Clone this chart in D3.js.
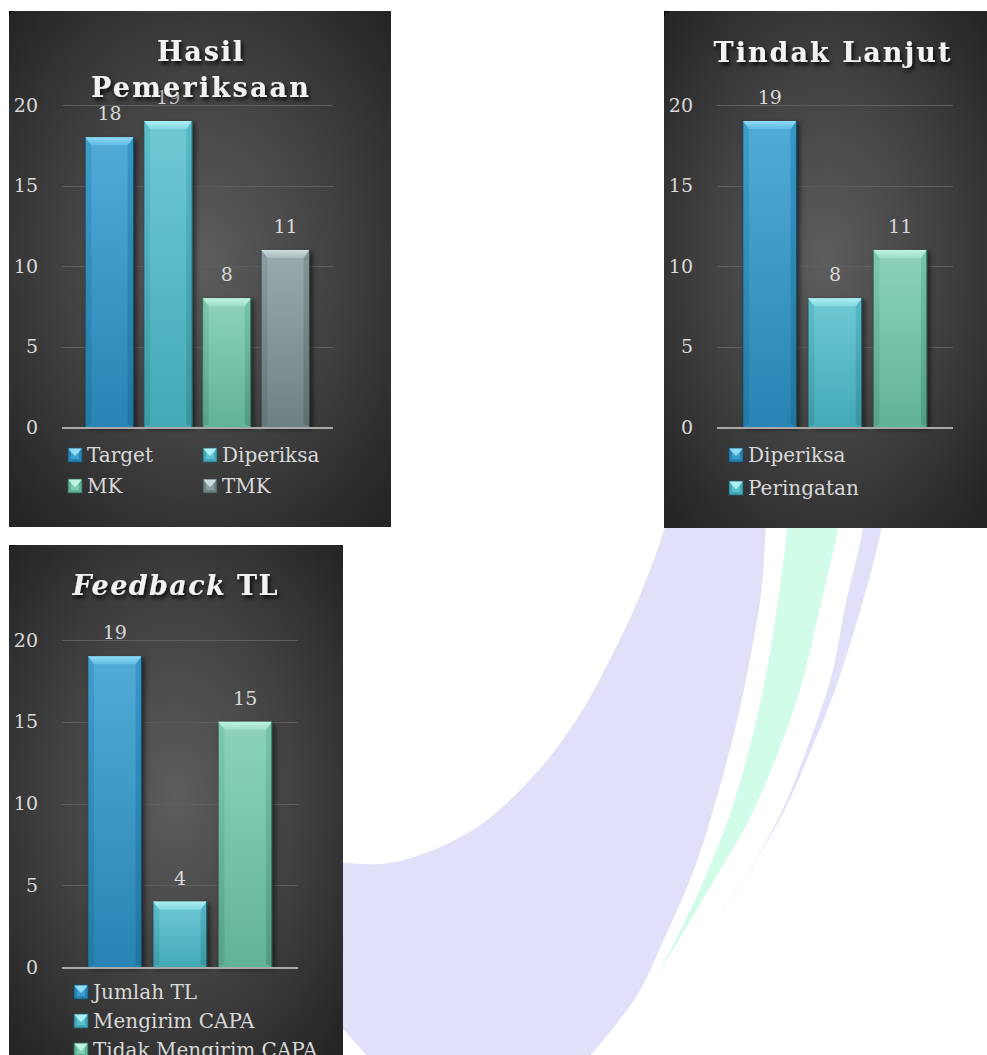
<!DOCTYPE html>
<html>
<head>
<meta charset="utf-8">
<script src="https://cdn.jsdelivr.net/npm/d3@7"></script>
<style>
  html, body { margin: 0; padding: 0; background: #ffffff; }
  svg { display: block; }
  text { font-family: "DejaVu Serif", serif; }
</style>
</head>
<body>
<svg id="chart" width="987" height="1055"></svg>
<script>
// ---------------- DATA ----------------
const yTicks = [0, 5, 10, 15, 20];

const hasilCategories = ["Target", "Diperiksa", "MK", "TMK"];
const hasilValues = [18, 19, 8, 11];

const tindakCategories = ["Diperiksa", "Peringatan", "Ketiga"];
const tindakValues = [19, 8, 11];
const tindakLegend = ["Diperiksa", "Peringatan"];

const feedbackCategories = ["Jumlah TL", "Mengirim CAPA", "Tidak Mengirim CAPA"];
const feedbackValues = [19, 4, 15];

// ---------------- STYLE ----------------
const palette = {
  blue:  { base: "#3a9fd1", top: "#8fdcf7", dark: "#2784b4", edge: "#17506e" },
  teal:  { base: "#5bc2cf", top: "#aef0f4", dark: "#43a9b7", edge: "#235e66" },
  green: { base: "#7ecdb2", top: "#bff4de", dark: "#60b397", edge: "#2f5f50" },
  gray:  { base: "#8c9fa2", top: "#cddcdd", dark: "#6d8184", edge: "#3a4648" }
};

const svg = d3.select("#chart");
const defs = svg.append("defs");

// panel radial background
const rg = defs.append("radialGradient").attr("id", "panelBg")
  .attr("cx", "50%").attr("cy", "48%").attr("r", "68%");
rg.append("stop").attr("offset", "0%").attr("stop-color", "#5d5d5d");
rg.append("stop").attr("offset", "55%").attr("stop-color", "#404040");
rg.append("stop").attr("offset", "100%").attr("stop-color", "#252525");

// title shadow
const fs = defs.append("filter").attr("id", "titleShadow")
  .attr("x", "-20%").attr("y", "-40%").attr("width", "140%").attr("height", "180%");
fs.append("feDropShadow").attr("dx", 2).attr("dy", 3).attr("stdDeviation", 2)
  .attr("flood-color", "#000").attr("flood-opacity", 0.85);

// bar shadow
const bs = defs.append("filter").attr("id", "barShadow")
  .attr("x", "-20%").attr("y", "-10%").attr("width", "150%").attr("height", "130%");
bs.append("feGaussianBlur").attr("stdDeviation", 2.5);

Object.entries(palette).forEach(([k, c]) => {
  const g = defs.append("linearGradient").attr("id", "body-" + k)
    .attr("x1", 0).attr("y1", 0).attr("x2", 0).attr("y2", 1);
  g.append("stop").attr("offset", "0%").attr("stop-color", d3.interpolateRgb(c.base, "#ffffff")(0.12));
  g.append("stop").attr("offset", "100%").attr("stop-color", c.dark);
  const t = defs.append("linearGradient").attr("id", "topb-" + k)
    .attr("x1", 0).attr("y1", 0).attr("x2", 0).attr("y2", 1);
  t.append("stop").attr("offset", "0%").attr("stop-color", c.top);
  t.append("stop").attr("offset", "100%").attr("stop-color", d3.interpolateRgb(c.top, c.base)(0.55));
  const sg = defs.append("linearGradient").attr("id", "side-" + k)
    .attr("x1", 0).attr("y1", 0).attr("x2", 0).attr("y2", 1);
  sg.append("stop").attr("offset", "0%").attr("stop-color", d3.interpolateRgb(c.base, c.dark)(0.4));
  sg.append("stop").attr("offset", "100%").attr("stop-color", d3.interpolateRgb(c.dark, c.edge)(0.35));
});

// ---------------- WATERMARK (decoration) ----------------
const wm = svg.append("g");
const curve = d3.line().curve(d3.curveCatmullRom.alpha(0.5));
const bigOuter = [[768,480],[765.6,528.9],[761.5,590.3],[749.1,663.8],[736.7,722.6],[726.4,763.1],[716,799.9],[695.4,866],[662.3,943.2],[637.5,994.7],[604.5,1038.8],[588,1058]];
const bigInner = [[342,862.4],[377.2,864.2],[402,860.5],[439.2,847.6],[484.6,821.9],[517.7,792.5],[550.7,755.7],[581.7,711.6],[616.9,645.4],[637.5,601.3],[664.4,528.9],[676,480]];
wm.append("path")
  .attr("d", curve(bigOuter) + "L369,1058L342,1028" + curve(bigInner).replace(/^M/, "L") + "Z")
  .attr("fill", "#e0e0f8");
const mintL = [[790,480],[787.1,528.9],[771.8,641.8],[757.4,715.3],[734.6,799.9],[709.8,866],[685,921.2],[658.2,974.5]];
const mintR = [[658.2,974.5],[720.2,869.7],[753.2,810.9],[796.6,700.6],[821.4,601.3],[837.9,528.9],[846,480]];
wm.append("path").attr("d", curve(mintL) + curve(mintR).replace(/^M/, "L") + "Z").attr("fill", "#d0fce8");
const thinL = [[866,480],[862.7,528.9],[846.2,601.3],[831.7,674.9],[807,748.4],[782.1,810.9],[745,877],[697.4,946.9]];
const thinR = [[697.4,946.9],[742.9,880.7],[784.2,810.9],[807,759.4],[833.8,693.2],[860.7,608.7],[881.3,528.9],[888,480]];
wm.append("path").attr("d", curve(thinL) + curve(thinR).replace(/^M/, "L") + "Z").attr("fill", "#e0e0f8");

// ---------------- DRAW HELPERS ----------------
function drawBar(g, x, y, w, h, key) {
  const c = palette[key];
  const b = 6, bv = 8;
  g.append("rect").attr("x", x + 2).attr("y", y + 2).attr("width", w + 1).attr("height", h)
    .attr("fill", "#000").attr("opacity", 0.55).attr("filter", "url(#barShadow)");
  g.append("rect").attr("x", x).attr("y", y).attr("width", w).attr("height", h)
    .attr("fill", "url(#body-" + key + ")");
  // left edge
  g.append("path").attr("d", `M${x},${y}L${x + b},${y + bv}L${x + b},${y + h - 3}L${x},${y + h}Z`)
    .attr("fill", "url(#side-" + key + ")").attr("opacity", 0.6);
  // right edge
  g.append("path").attr("d", `M${x + w},${y}L${x + w - b},${y + bv}L${x + w - b},${y + h - 3}L${x + w},${y + h}Z`)
    .attr("fill", "url(#side-" + key + ")").attr("opacity", 0.85);
  // top bevel
  g.append("path").attr("d", `M${x},${y}L${x + w},${y}L${x + w - b},${y + bv}L${x + b},${y + bv}Z`)
    .attr("fill", "url(#topb-" + key + ")");
  // outlines
  g.append("line").attr("x1", x + w).attr("x2", x + w).attr("y1", y).attr("y2", y + h)
    .attr("stroke", c.edge).attr("stroke-width", 1.2);
  g.append("line").attr("x1", x).attr("x2", x).attr("y1", y + 1).attr("y2", y + h)
    .attr("stroke", c.edge).attr("stroke-width", 0.8).attr("opacity", 0.7);
}

function drawMarker(g, x, y, key) {
  const c = palette[key];
  const s = 14;
  g.append("rect").attr("x", x).attr("y", y).attr("width", s).attr("height", s).attr("fill", c.dark);
  g.append("rect").attr("x", x + 3).attr("y", y + 4).attr("width", s - 6).attr("height", s - 7).attr("fill", c.base);
  g.append("path").attr("d", `M${x},${y}L${x + s},${y}L${x + s - 3},${y + 4}L${x + s / 2},${y + 8}L${x + 3},${y + 4}Z`)
    .attr("fill", c.top);
  g.append("rect").attr("x", x).attr("y", y).attr("width", s).attr("height", s)
    .attr("fill", "none").attr("stroke", c.edge).attr("stroke-width", 0.8);
}

function drawPanel(cfg) {
  const g = svg.append("g");
  const clipId = "clip-" + cfg.id;
  defs.append("clipPath").attr("id", clipId).append("rect")
    .attr("x", cfg.box[0]).attr("y", cfg.box[1]).attr("width", cfg.box[2]).attr("height", cfg.box[3]);
  const p = g.append("g").attr("clip-path", `url(#${clipId})`);
  p.append("rect").attr("x", cfg.box[0]).attr("y", cfg.box[1]).attr("width", cfg.box[2]).attr("height", cfg.box[3])
    .attr("fill", "url(#panelBg)");
  // corner mark
  p.append("path").attr("d", `M${cfg.box[0]},${cfg.box[1] + 5}V${cfg.box[1]}H${cfg.box[0] + 5}`)
    .attr("stroke", "#000").attr("stroke-width", 2).attr("fill", "none");

  const x = d3.scaleBand().domain(cfg.categories).range(cfg.xRange).paddingInner(0.18).paddingOuter(0.4);
  const y = d3.scaleLinear().domain([0, 20]).range(cfg.yRange);

  // gridlines
  p.append("g").selectAll("line").data(yTicks.filter(t => t > 0)).join("line")
    .attr("x1", cfg.xRange[0]).attr("x2", cfg.xRange[1])
    .attr("y1", d => Math.round(y(d)) + 0.5).attr("y2", d => Math.round(y(d)) + 0.5)
    .attr("stroke", "#5f5f5f").attr("stroke-width", 1);

  // y axis labels
  const ax = p.append("g").attr("transform", `translate(${cfg.xRange[0]},0)`)
    .call(d3.axisLeft(y).tickValues(yTicks).tickSize(0).tickPadding(24).tickFormat(d3.format("d")));
  ax.select(".domain").remove();
  ax.selectAll("text").attr("fill", "#d9d9d9").attr("font-size", 19)
    .attr("font-family", "DejaVu Serif, serif");

  // bars
  const bw = x.bandwidth();
  cfg.values.forEach((v, i) => {
    const cat = cfg.categories[i];
    drawBar(p, x(cat), y(v), bw, y(0) - y(v), cfg.colors[i]);
  });

  // axis baseline
  p.append("line").attr("x1", cfg.xRange[0]).attr("x2", cfg.xRange[1])
    .attr("y1", y(0) + 1).attr("y2", y(0) + 1).attr("stroke", "#a9a9a9").attr("stroke-width", 2.2);

  // value labels
  p.append("g").selectAll("text").data(cfg.values).join("text")
    .attr("x", (d, i) => x(cfg.categories[i]) + bw / 2)
    .attr("y", d => y(d) - 17)
    .attr("text-anchor", "middle").attr("fill", "#d9d9d9").attr("font-size", 19)
    .text(d => d);

  // title
  cfg.title.forEach(line => {
    const t = p.append("text").attr("x", cfg.titleX).attr("y", line.y)
      .attr("text-anchor", "middle").attr("fill", "#f2f2f2").attr("font-size", 27)
      .attr("font-weight", "bold").attr("filter", "url(#titleShadow)")
      .attr("textLength", line.width).attr("lengthAdjust", "spacing");
    line.parts.forEach(pt => {
      t.append("tspan").attr("font-style", pt.italic ? "italic" : "normal").text(pt.text);
    });
  });

  // legend
  cfg.legend.forEach((item, i) => {
    drawMarker(p, item.x, item.y - 14, cfg.colors[i]);
    p.append("text").attr("x", item.x + 19).attr("y", item.y)
      .attr("fill", "#d9d9d9").attr("font-size", 20).text(item.label);
  });
}

// ---------------- PANELS ----------------
drawPanel({
  id: "hasil",
  box: [9, 11, 382, 516],
  categories: hasilCategories,
  values: hasilValues,
  colors: ["blue", "teal", "green", "gray"],
  xRange: [62, 333],
  yRange: [427, 105],
  titleX: 200,
  title: [
    { y: 61, width: 86, parts: [{ text: "Hasil" }] },
    { y: 97, width: 218, parts: [{ text: "Pemeriksaan" }] }
  ],
  legend: [
    { label: hasilCategories[0], x: 68, y: 462 },
    { label: hasilCategories[1], x: 203, y: 462 },
    { label: hasilCategories[2], x: 68, y: 493 },
    { label: hasilCategories[3], x: 203, y: 493 }
  ]
});

drawPanel({
  id: "tindak",
  box: [664, 11, 323, 517],
  categories: tindakCategories,
  values: tindakValues,
  colors: ["blue", "teal", "green"],
  xRange: [717, 953],
  yRange: [427, 105],
  titleX: 832,
  title: [
    { y: 62, width: 237, parts: [{ text: "Tindak Lanjut" }] }
  ],
  legend: [
    { label: tindakLegend[0], x: 729, y: 462 },
    { label: tindakLegend[1], x: 729, y: 495 }
  ]
});

drawPanel({
  id: "feedback",
  box: [9, 545, 334, 520],
  categories: feedbackCategories,
  values: feedbackValues,
  colors: ["blue", "teal", "green"],
  xRange: [62, 298],
  yRange: [967, 640],
  titleX: 175,
  title: [
    { y: 595, width: 205, parts: [{ text: "Feedback", italic: true }, { text: " TL" }] }
  ],
  legend: [
    { label: feedbackCategories[0], x: 74, y: 999 },
    { label: feedbackCategories[1], x: 74, y: 1028 },
    { label: feedbackCategories[2], x: 74, y: 1057 }
  ]
});
</script>
</body>
</html>
